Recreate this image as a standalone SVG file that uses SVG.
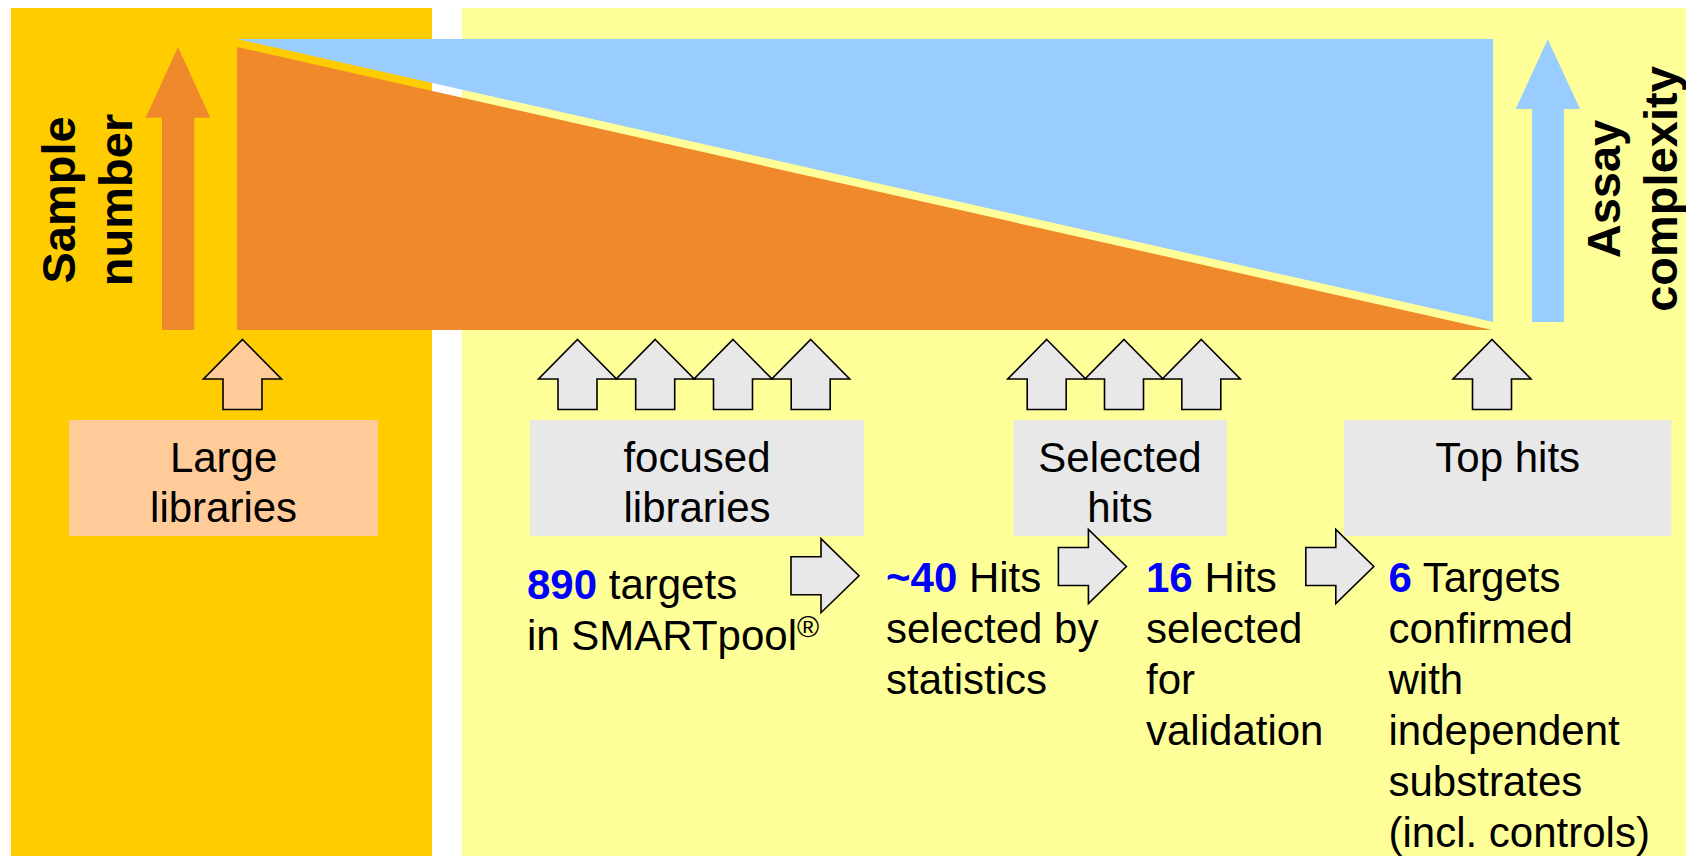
<svg xmlns="http://www.w3.org/2000/svg" xmlns:xlink="http://www.w3.org/1999/xlink" width="1686" height="856" viewBox="0 0 1686 856">
  <style>
    text { font-family: "Liberation Sans", Arial, sans-serif; fill: #000; }
    .lbl { font-size: 42px; }
    .axis { font-size: 47px; font-weight: bold; }
    .num { fill: #0000ff; font-weight: bold; }
    .mid { text-anchor: middle; }
    .blk { stroke: #000; stroke-width: 1.6; stroke-linejoin: miter; }
    .grey { fill: #e8e8e8; }
    .peach { fill: #ffcc99; }
  </style>
  <defs>
    <!-- upward block arrow, tip at origin -->
    <path id="up" d="M0,0 L39,39.5 L19.5,39.5 L19.5,70 L-19.5,70 L-19.5,39.5 L-39,39.5 Z"/>
    <!-- rightward block arrow, left-middle at origin -->
    <path id="right" d="M0,-19 L30,-19 L30,-37 L68,0 L30,37 L30,19 L0,19 Z"/>
  </defs>

  <rect width="1686" height="856" fill="#fff"/>

  <!-- background panels -->
  <g id="panels">
    <rect x="11" y="8" width="421" height="848" fill="#ffcc00"/>
    <rect x="462" y="8" width="1224" height="848" fill="#ffff99"/>
  </g>

  <!-- sample number vs assay complexity wedges -->
  <g id="wedges">
    <polygon points="237,39 1493,39 1493,322" fill="#99ccff"/>
    <polygon points="237,47 237,330 1492,330" fill="#f0892c"/>
  </g>

  <g id="sample-number">
    <polygon points="162,330 162,117.7 145.7,117.7 178,47 210.3,117.7 194.3,117.7 194.3,330" fill="#f0892c"/>
    <text class="axis mid" transform="translate(75,200) rotate(-90)">Sample</text>
    <text class="axis mid" transform="translate(131.5,200) rotate(-90)">number</text>
  </g>

  <g id="assay-complexity">
    <polygon points="1532,322 1532,109 1515.7,109 1547.7,39.3 1580,109 1564,109 1564,322" fill="#99ccff"/>
    <text class="axis mid" transform="translate(1620,189) rotate(-90)">Assay</text>
    <text class="axis mid" transform="translate(1677,189) rotate(-90)">complexity</text>
  </g>

  <g id="large-libraries">
    <rect x="69" y="420" width="309" height="116" class="peach"/>
    <text class="lbl mid" x="223.6" y="472">Large</text>
    <text class="lbl mid" x="223.6" y="522">libraries</text>
  </g>

  <g id="focused-libraries">
    <rect x="530" y="420" width="334" height="116" class="grey"/>
    <text class="lbl mid" x="697" y="472">focused</text>
    <text class="lbl mid" x="697" y="522">libraries</text>
  </g>

  <g id="selected-hits">
    <rect x="1013.6" y="420" width="213.3" height="116" class="grey"/>
    <text class="lbl mid" x="1120" y="472">Selected</text>
    <text class="lbl mid" x="1120" y="522">hits</text>
  </g>

  <g id="top-hits">
    <rect x="1344" y="420" width="327.4" height="116" class="grey"/>
    <text class="lbl mid" x="1507.7" y="472">Top hits</text>
  </g>

  <g id="step-890">
    <text class="lbl" x="527" y="598.6"><tspan class="num">890</tspan> targets</text>
    <text class="lbl" x="527" y="650">in SMARTpool<tspan font-size="30" dy="-13">®</tspan></text>
  </g>

  <g id="step-40">
    <text class="lbl" x="886" y="592"><tspan class="num">~40</tspan> Hits</text>
    <text class="lbl" x="886" y="643">selected by</text>
    <text class="lbl" x="886" y="694">statistics</text>
  </g>

  <g id="step-16">
    <text class="lbl" x="1146" y="592"><tspan class="num">16</tspan> Hits</text>
    <text class="lbl" x="1146" y="643">selected</text>
    <text class="lbl" x="1146" y="694">for</text>
    <text class="lbl" x="1146" y="745">validation</text>
  </g>

  <g id="step-6">
    <text class="lbl" x="1388.5" y="592"><tspan class="num">6</tspan> Targets</text>
    <text class="lbl" x="1388.5" y="643">confirmed</text>
    <text class="lbl" x="1388.5" y="694">with</text>
    <text class="lbl" x="1388.5" y="745">independent</text>
    <text class="lbl" x="1388.5" y="796">substrates</text>
    <text class="lbl" x="1388.5" y="847">(incl. controls)</text>
  </g>

  <g id="connectors">
    <use xlink:href="#up" x="242.5" y="339.5" class="blk peach"/>
    <use xlink:href="#up" x="577.5" y="339.5" class="blk grey"/>
    <use xlink:href="#up" x="655.2" y="339.5" class="blk grey"/>
    <use xlink:href="#up" x="733" y="339.5" class="blk grey"/>
    <use xlink:href="#up" x="810.7" y="339.5" class="blk grey"/>
    <use xlink:href="#up" x="1046.7" y="339.5" class="blk grey"/>
    <use xlink:href="#up" x="1124" y="339.5" class="blk grey"/>
    <use xlink:href="#up" x="1201.3" y="339.5" class="blk grey"/>
    <use xlink:href="#up" x="1492" y="339.5" class="blk grey"/>
    <use xlink:href="#right" x="791" y="575.7" class="blk grey"/>
    <use xlink:href="#right" x="1058.4" y="566.5" class="blk grey"/>
    <use xlink:href="#right" x="1305.8" y="566.5" class="blk grey"/>
  </g>
</svg>
